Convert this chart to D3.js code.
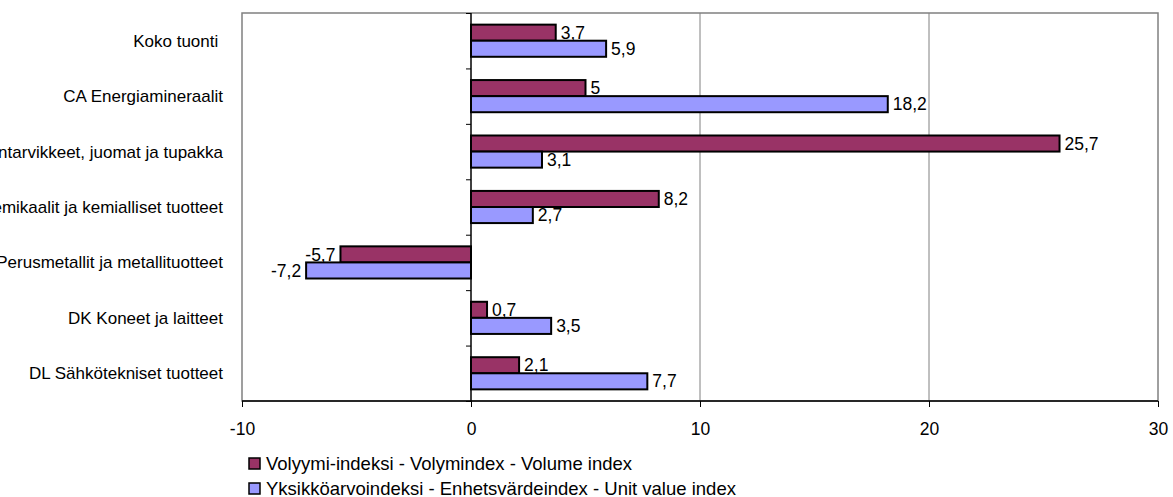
<!DOCTYPE html>
<html lang="fi">
<head>
<meta charset="utf-8">
<title>Volyymi- ja yksikköarvoindeksi</title>
<script src="https://d3js.org/d3.v7.min.js"></script>
<style>
  body { margin: 0; background: #fff; }
  svg text { font-family: "Liberation Sans", Arial, sans-serif; font-size: 17px; fill: #000; }
</style>
</head>
<body>
<div id="chart"></div>
<script>
// data
var categories = [
  "Koko tuonti ",
  "CA Energiamineraalit",
  "DA Elintarvikkeet, juomat ja tupakka",
  "DG Kemikaalit ja kemialliset tuotteet",
  "DJ Perusmetallit ja metallituotteet",
  "DK Koneet ja laitteet",
  "DL Sähkötekniset tuotteet"
];
var volumeIndex = [3.7, 5, 25.7, 8.2, -5.7, 0.7, 2.1];
var unitValueIndex = [5.9, 18.2, 3.1, 2.7, -7.2, 3.5, 7.7];
var seriesNames = [
  "Volyymi-indeksi - Volymindex - Volume index",
  "Yksikköarvoindeksi - Enhetsvärdeindex - Unit value index"
];
var xTicks = [-10, 0, 10, 20, 30];

var width = 1173, height = 497;
var margin = {top: 13, right: 15, bottom: 96, left: 242};
var plotW = width - margin.left - margin.right;
var plotH = height - margin.top - margin.bottom;
var colors = ["#993366", "#9999ff"];

var svg = d3.select("#chart").append("svg")
  .attr("width", width)
  .attr("height", height);

var g = svg.append("g").attr("transform", `translate(${margin.left},${margin.top})`);

var x = d3.scaleLinear().domain([-10, 30]).range([0, plotW]);
var y = d3.scaleBand().domain(d3.range(categories.length)).range([0, plotH]).paddingInner(0.42).paddingOuter(0.21);
var ySub = d3.scaleBand().domain([0, 1]).range([0, y.bandwidth()]);
var yCat = d3.scaleBand().domain(d3.range(categories.length)).range([0, plotH]);

// plot frame
g.append("rect")
  .attr("x", 0).attr("y", 0)
  .attr("width", plotW).attr("height", plotH)
  .attr("fill", "none").attr("stroke", "#808080").attr("stroke-width", 1.5);

// gridlines
g.selectAll(".grid").data(xTicks.filter(d => d !== 0 && d !== -10 && d !== 30))
  .enter().append("line")
  .attr("x1", d => x(d)).attr("x2", d => x(d))
  .attr("y1", 0).attr("y2", plotH)
  .attr("stroke", "#808080").attr("stroke-width", 1);

// bottom axis
var xAxis = d3.axisBottom(x).tickValues(xTicks).tickSize(6).tickPadding(16).tickFormat(d => String(d));
var ax = g.append("g").attr("transform", `translate(0,${plotH})`).call(xAxis);
ax.select(".domain").attr("stroke", "#000").attr("stroke-width", 1.5).attr("d", `M0,0H${plotW}`);
ax.selectAll(".tick line").attr("stroke", "#000");
ax.selectAll(".tick text").style("font-size", "17.5px").attr("fill", "#000");

// zero axis with category ticks
var yAxis = d3.axisLeft(d3.scaleLinear().domain([0, categories.length]).range([0, plotH]))
  .ticks(categories.length).tickSize(5).tickFormat("");
var ay = g.append("g").attr("transform", `translate(${x(0)},0)`).call(yAxis);
ay.select(".domain").attr("stroke", "#000").attr("stroke-width", 1.5).attr("d", `M0,0V${plotH}`);
ay.selectAll(".tick line").attr("stroke", "#000");

// category labels
svg.selectAll(".cat").data(categories).enter().append("text")
  .attr("x", 223)
  .attr("y", (d, i) => margin.top + yCat(i) + yCat.bandwidth() / 2)
  .attr("dy", "0.35em")
  .attr("text-anchor", "end")
  .style("white-space", "pre")
  .text(d => d);

// bars
var series = [volumeIndex, unitValueIndex];
series.forEach(function(vals, s) {
  var grp = g.append("g");
  grp.selectAll("rect").data(vals).enter().append("rect")
    .attr("x", d => x(Math.min(0, d)))
    .attr("y", (d, i) => y(i) + ySub(s))
    .attr("width", d => Math.abs(x(d) - x(0)))
    .attr("height", ySub.bandwidth())
    .attr("fill", colors[s])
    .attr("stroke", "#000").attr("stroke-width", 2);
  grp.selectAll("text").data(vals).enter().append("text")
    .attr("x", d => d < 0 ? x(d) - 5 : x(d) + 5)
    .attr("y", (d, i) => y(i) + ySub(s) + ySub.bandwidth() / 2)
    .attr("dy", "0.35em")
    .attr("text-anchor", d => d < 0 ? "end" : "start")
    .style("font-size", "17.5px")
    .text(d => String(d).replace(".", ","));
});

// legend
var legend = svg.append("g").attr("transform", "translate(249,458)");
seriesNames.forEach(function(name, i) {
  legend.append("rect")
    .attr("x", 0).attr("y", i * 25)
    .attr("width", 11).attr("height", 11)
    .attr("fill", colors[i]).attr("stroke", "#000").attr("stroke-width", 1.5);
  legend.append("text")
    .attr("x", 17).attr("y", i * 25 + 6)
    .attr("dy", "0.35em")
    .style("font-size", "18.5px")
    .text(name);
});
</script>
</body>
</html>
